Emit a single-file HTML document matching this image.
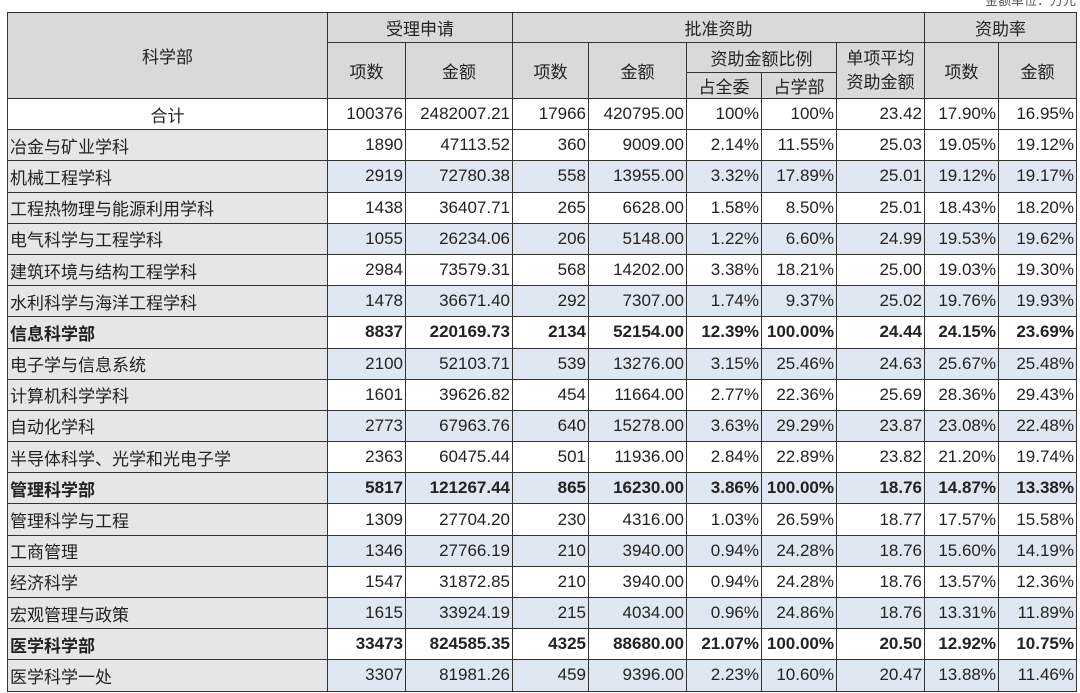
<!DOCTYPE html>
<html><head><meta charset="utf-8"><style>
body{margin:0;width:1080px;height:693px;overflow:hidden;background:#fff;font-family:"Liberation Sans","Noto Sans CJK SC",sans-serif;}
#note{position:absolute;right:4px;top:-10px;font-size:13px;color:#555;}
table{position:absolute;left:7px;top:12px;border-collapse:collapse;table-layout:fixed;font-size:17px;color:#222;}
td,th{border:1px solid #333;padding:0 2px;white-space:nowrap;overflow:hidden;}
th{background:#d9d9d9;font-weight:normal;text-align:center;}
tr.h th{height:29px;}
tr.h3 th{height:25px;}
td{height:30.2px;text-align:right;}
td.n{text-align:left;background:#e6e6e6;}
tr.b td{background:#dfe8f2;}
tr.b td.n{background:#e6e6e6;}
tr.bold td{font-weight:bold;}
tr.total td.n{background:#fff;text-align:center;}
</style></head><body>
<div id="note">金额单位：万元</div>
<table>
<colgroup><col style="width:320px"><col style="width:78px"><col style="width:107px"><col style="width:76px"><col style="width:98px"><col style="width:75px"><col style="width:75px"><col style="width:88px"><col style="width:74px"><col style="width:78px"></colgroup>
<tr class="h"><th rowspan="3">科学部</th><th colspan="2">受理申请</th><th colspan="5">批准资助</th><th colspan="2">资助率</th></tr>
<tr class="h"><th rowspan="2">项数</th><th rowspan="2">金额</th><th rowspan="2">项数</th><th rowspan="2">金额</th><th colspan="2">资助金额比例</th><th rowspan="2" style="line-height:24px">单项平均<br>资助金额</th><th rowspan="2">项数</th><th rowspan="2">金额</th></tr>
<tr class="h3"><th>占全委</th><th>占学部</th></tr>
<tbody id="body"></tbody>
</table>
<script>
const rows=[
["合计","100376","2482007.21","17966","420795.00","100%","100%","23.42","17.90%","16.95%"],
["冶金与矿业学科","1890","47113.52","360","9009.00","2.14%","11.55%","25.03","19.05%","19.12%"],
["机械工程学科","2919","72780.38","558","13955.00","3.32%","17.89%","25.01","19.12%","19.17%"],
["工程热物理与能源利用学科","1438","36407.71","265","6628.00","1.58%","8.50%","25.01","18.43%","18.20%"],
["电气科学与工程学科","1055","26234.06","206","5148.00","1.22%","6.60%","24.99","19.53%","19.62%"],
["建筑环境与结构工程学科","2984","73579.31","568","14202.00","3.38%","18.21%","25.00","19.03%","19.30%"],
["水利科学与海洋工程学科","1478","36671.40","292","7307.00","1.74%","9.37%","25.02","19.76%","19.93%"],
["信息科学部","8837","220169.73","2134","52154.00","12.39%","100.00%","24.44","24.15%","23.69%"],
["电子学与信息系统","2100","52103.71","539","13276.00","3.15%","25.46%","24.63","25.67%","25.48%"],
["计算机科学学科","1601","39626.82","454","11664.00","2.77%","22.36%","25.69","28.36%","29.43%"],
["自动化学科","2773","67963.76","640","15278.00","3.63%","29.29%","23.87","23.08%","22.48%"],
["半导体科学、光学和光电子学","2363","60475.44","501","11936.00","2.84%","22.89%","23.82","21.20%","19.74%"],
["管理科学部","5817","121267.44","865","16230.00","3.86%","100.00%","18.76","14.87%","13.38%"],
["管理科学与工程","1309","27704.20","230","4316.00","1.03%","26.59%","18.77","17.57%","15.58%"],
["工商管理","1346","27766.19","210","3940.00","0.94%","24.28%","18.76","15.60%","14.19%"],
["经济科学","1547","31872.85","210","3940.00","0.94%","24.28%","18.76","13.57%","12.36%"],
["宏观管理与政策","1615","33924.19","215","4034.00","0.96%","24.86%","18.76","13.31%","11.89%"],
["医学科学部","33473","824585.35","4325","88680.00","21.07%","100.00%","20.50","12.92%","10.75%"],
["医学科学一处","3307","81981.26","459","9396.00","2.23%","10.60%","20.47","13.88%","11.46%"]
];
const boldRows=[7,12,17];
const tb=document.getElementById('body');
rows.forEach((r,i)=>{
  const tr=document.createElement('tr');
  
  
  if(i===0)tr.classList.add('total');
  if(i>0&&i%2===0)tr.classList.add('b');
  if(boldRows.includes(i))tr.classList.add('bold');
  r.forEach((v,j)=>{
    const td=document.createElement('td');
    
    
    if(j===0)td.className='n';
    td.textContent=v;tr.appendChild(td);
  });
  tb.appendChild(tr);
});
</script>
</body></html>
